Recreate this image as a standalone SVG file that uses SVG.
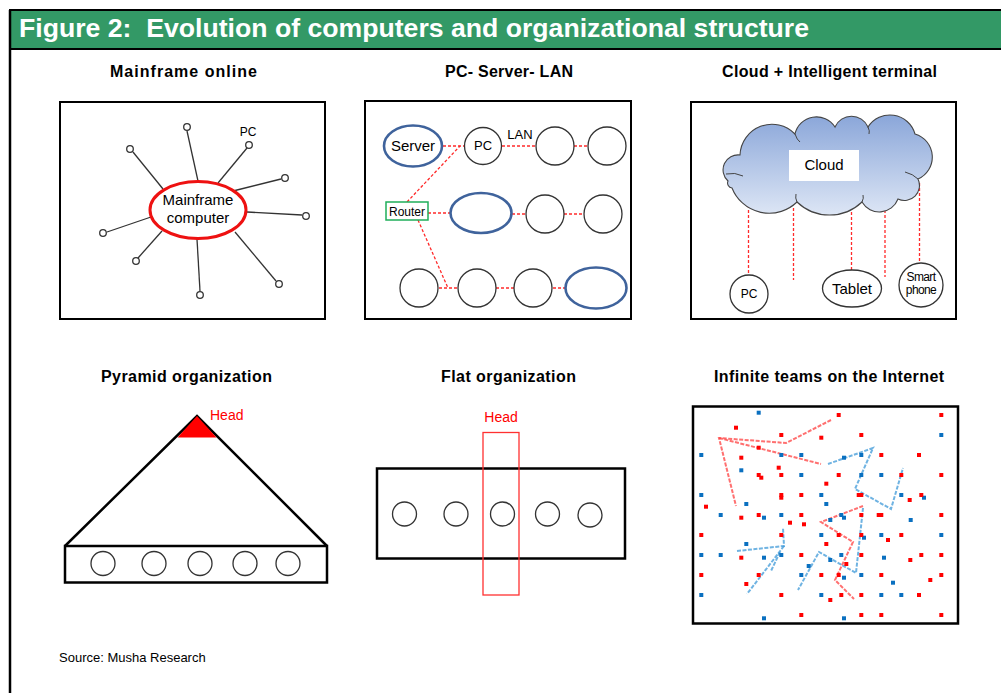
<svg xmlns="http://www.w3.org/2000/svg" xmlns:xlink="http://www.w3.org/1999/xlink" width="1001" height="693" viewBox="0 0 1001 693">
  <style>
    .t { font-family: "Liberation Sans", Arial, sans-serif; fill: #000; }
    .hd { font-family: "Liberation Sans", Arial, sans-serif; font-weight: bold; font-size: 26px; fill: #fff; white-space: pre; }
    .st { font-family: "Liberation Sans", Arial, sans-serif; font-weight: bold; font-size: 16px; fill: #000; }
    .panel { fill: #fff; stroke: #000; stroke-width: 2; }
    .spoke { stroke: #333; stroke-width: 1.3; fill: none; }
    .pc { fill: #fff; stroke: #333; stroke-width: 1.3; }
    .node { fill: #fff; stroke: #333; stroke-width: 1.3; }
    .blue { fill: #fff; stroke: #3f639c; stroke-width: 2.6; }
    .lan { stroke: #ff2a2a; stroke-width: 1.3; stroke-dasharray: 3 2; fill: none; }
    .mid { text-anchor: middle; }
    .red { fill: #ff0000; }
    .rl { stroke: #ff4040; stroke-width: 2; stroke-dasharray: 4 1.5; fill: none; opacity: 0.75; }
    .bl { stroke: #3f9ad8; stroke-width: 2; stroke-dasharray: 4 1.5; fill: none; opacity: 0.75; }
  </style>
  <defs>
    <linearGradient id="sky" x1="0" y1="0" x2="0" y2="1">
      <stop offset="0" stop-color="#8aa6d9"/>
      <stop offset="1" stop-color="#dde6f5"/>
    </linearGradient>
    <rect id="rd" x="-2" y="-2" width="4" height="4" fill="#ff0000"/>
    <rect id="bd" x="-2" y="-2" width="4" height="4" fill="#0a70c0"/>
  </defs>

  <rect width="1001" height="693" fill="#fff"/>

  <!-- header band and page frame -->
  <g id="header">
    <rect x="10" y="10" width="992" height="39" fill="#339966" stroke="#000" stroke-width="2"/>
    <line x1="10" y1="10" x2="10" y2="693" stroke="#000" stroke-width="2.5"/>
    <text class="hd" x="19" y="37" textLength="790" lengthAdjust="spacingAndGlyphs">Figure 2:  Evolution of computers and organizational structure</text>
  </g>

  <!-- section titles -->
  <g id="titles">
    <text class="st" x="110" y="77" textLength="147">Mainframe online</text>
    <text class="st" x="445" y="77" textLength="128">PC- Server- LAN</text>
    <text class="st" x="722" y="77" textLength="215">Cloud + Intelligent terminal</text>
    <text class="st" x="101" y="382" textLength="171">Pyramid organization</text>
    <text class="st" x="441" y="382" textLength="135">Flat organization</text>
    <text class="st" x="714" y="382" textLength="230">Infinite teams on the Internet</text>
  </g>

  <!-- Mainframe online -->
  <g id="mainframe">
    <rect class="panel" x="60" y="102" width="265" height="217"/>
    <g class="spoke">
      <line x1="198" y1="181" x2="187" y2="131"/>
      <line x1="218" y1="183" x2="247" y2="148"/>
      <line x1="163" y1="189" x2="133" y2="152"/>
      <line x1="233" y1="191" x2="281" y2="179"/>
      <line x1="247" y1="212" x2="302" y2="215"/>
      <line x1="151" y1="217" x2="107" y2="232"/>
      <line x1="162" y1="231" x2="138" y2="258"/>
      <line x1="197" y1="239" x2="200" y2="291"/>
      <line x1="235" y1="232" x2="276" y2="281"/>
    </g>
    <g class="pc">
      <circle cx="187" cy="127" r="3.3"/>
      <circle cx="249" cy="145" r="3.3"/>
      <circle cx="130" cy="149" r="3.3"/>
      <circle cx="285" cy="178" r="3.3"/>
      <circle cx="306" cy="216" r="3.3"/>
      <circle cx="103" cy="233" r="3.3"/>
      <circle cx="136" cy="261" r="3.3"/>
      <circle cx="200" cy="295" r="3.3"/>
      <circle cx="279" cy="284" r="3.3"/>
    </g>
    <ellipse cx="198" cy="210" rx="48" ry="28.5" fill="#fff" stroke="#ee1111" stroke-width="3"/>
    <text class="t mid" x="198" y="205" font-size="15">Mainframe</text>
    <text class="t mid" x="198" y="223" font-size="15">computer</text>
    <text class="t mid" x="248" y="136" font-size="12">PC</text>
  </g>

  <!-- PC- Server- LAN -->
  <g id="lan">
    <rect class="panel" x="365" y="101" width="266" height="218"/>
    <g class="lan">
      <line x1="443" y1="146" x2="465" y2="146"/>
      <line x1="502" y1="146" x2="536" y2="146"/>
      <line x1="574" y1="146" x2="589" y2="146"/>
      <line x1="407" y1="202" x2="460" y2="146"/>
      <line x1="428" y1="213" x2="450" y2="213"/>
      <line x1="512" y1="214" x2="526" y2="214"/>
      <line x1="564" y1="214" x2="584" y2="214"/>
      <line x1="418" y1="220" x2="448" y2="288"/>
      <line x1="439" y1="288" x2="458" y2="288"/>
      <line x1="496" y1="288" x2="514" y2="288"/>
      <line x1="553" y1="288" x2="565" y2="288"/>
    </g>
    <ellipse class="blue" cx="413" cy="146" rx="29" ry="20.5"/>
    <text class="t mid" x="413" y="151" font-size="15">Server</text>
    <circle class="node" cx="483" cy="146" r="18.5"/>
    <text class="t mid" x="483" y="150" font-size="13">PC</text>
    <text class="t mid" x="520" y="139" font-size="13">LAN</text>
    <circle class="node" cx="555" cy="146" r="19"/>
    <circle class="node" cx="607" cy="146" r="19"/>
    <rect x="386" y="202" width="42" height="18" fill="#fff" stroke="#1fae5a" stroke-width="1.5"/>
    <text class="t mid" x="407" y="215.5" font-size="12">Router</text>
    <ellipse class="blue" cx="481" cy="213" rx="30.5" ry="20"/>
    <circle class="node" cx="545" cy="214" r="19"/>
    <circle class="node" cx="603" cy="214" r="19"/>
    <circle class="node" cx="419" cy="288" r="19"/>
    <circle class="node" cx="477" cy="288" r="19"/>
    <circle class="node" cx="533" cy="288" r="19"/>
    <ellipse class="blue" cx="596" cy="288" rx="30.5" ry="20.5"/>
  </g>

  <!-- Cloud + Intelligent terminal -->
  <g id="cloud">
    <rect class="panel" x="691" y="102" width="265" height="217"/>
    <g class="lan">
      <line x1="748.5" y1="205" x2="748.5" y2="275"/>
      <line x1="793.5" y1="208" x2="793.5" y2="280"/>
      <line x1="851.5" y1="212" x2="851.5" y2="270"/>
      <line x1="885" y1="205" x2="885" y2="277"/>
      <line x1="919.5" y1="183" x2="919.5" y2="263"/>
    </g>
    <path d="M728,181 A15,15 0 0 1 740,155 A32,32 0 0 1 795,134 A22,22 0 0 1 835,127 A18,18 0 0 1 868,127 A26,26 0 0 1 915,134 A24,24 0 0 1 918,179 A15,15 0 0 1 898,199 A20,20 0 0 1 862,202 A47,47 0 0 1 797,202 A40,40 0 0 1 732,188 A5,5 0 0 1 728,181 Z" fill="url(#sky)" stroke="#444" stroke-width="1.1"/>
    <g fill="none" stroke="#444" stroke-width="1">
      <path d="M726,174 Q735,172 743,176"/>
      <path d="M795,134 Q797,140 800,142"/>
      <path d="M868,127 Q870,131 869,134"/>
      <path d="M905,172 Q913,174 918,179"/>
      <path d="M797,202 Q795,198 796,194"/>
      <path d="M862,202 Q864,198 863,195"/>
    </g>
    <rect x="789" y="150" width="70" height="31" fill="#fff"/>
    <text class="t mid" x="824" y="170" font-size="15">Cloud</text>
    <circle class="node" cx="749" cy="294" r="19"/>
    <text class="t mid" x="749" y="298" font-size="12">PC</text>
    <ellipse class="node" cx="852" cy="288.5" rx="29.5" ry="18.5"/>
    <text class="t mid" x="852" y="294" font-size="15">Tablet</text>
    <circle class="node" cx="921" cy="285" r="22"/>
    <text class="t mid" x="921" y="281" font-size="12" letter-spacing="-0.6">Smart</text>
    <text class="t mid" x="921" y="294" font-size="12" letter-spacing="-0.6">phone</text>
  </g>

  <!-- Pyramid organization -->
  <g id="pyramid">
    <polyline points="65,546 197,416 327,546" fill="none" stroke="#000" stroke-width="2.5"/>
    <polygon points="197,416 177.5,437.5 216.5,437.5" fill="#ff0000"/>
    <text class="t red" x="210" y="420" font-size="14">Head</text>
    <rect x="65" y="546" width="262" height="36.5" fill="#fff" stroke="#000" stroke-width="2.5"/>
    <g class="node">
      <circle cx="103" cy="563.5" r="12"/>
      <circle cx="154" cy="563.5" r="12"/>
      <circle cx="200" cy="563.5" r="12"/>
      <circle cx="245" cy="563.5" r="12"/>
      <circle cx="288" cy="563.5" r="12"/>
    </g>
  </g>

  <!-- Flat organization -->
  <g id="flat">
    <rect x="377" y="468.5" width="248" height="90" fill="#fff" stroke="#000" stroke-width="2.5"/>
    <g class="node">
      <circle cx="404.5" cy="514" r="12"/>
      <circle cx="456" cy="514" r="12"/>
      <circle cx="502.5" cy="514" r="12"/>
      <circle cx="547.5" cy="514" r="12"/>
      <circle cx="590" cy="515" r="12"/>
    </g>
    <rect x="483" y="432.5" width="36" height="162.5" fill="none" stroke="#ff3030" stroke-width="1.3"/>
    <text class="t red mid" x="501" y="421.5" font-size="14">Head</text>
  </g>

  <!-- Infinite teams on the Internet -->
  <g id="teams">
    <rect x="693" y="406.5" width="265" height="217" fill="#fff" stroke="#000" stroke-width="2.5"/>
    <g id="team-links">
      <polyline class="rl" points="831,420 786,443 719,438 736,506"/>
      <line class="rl" x1="719" y1="438" x2="821" y2="464"/>
      <polyline class="bl" points="828,464 873,448 855,489 891,509 903,468"/>
      <polyline class="rl" points="863,506 821,522 853,542 835,580 854,599"/>
      <polyline class="bl" points="863,508 856,573 819,552 798,590"/>
      <polyline class="bl" points="737,551 784,546 783,528"/>
      <line class="bl" x1="784" y1="546" x2="747" y2="594"/>
      <line class="bl" x1="780" y1="552" x2="771" y2="571"/>
    </g>
    <g id="team-dots-blue">
      <use href="#bd" x="758.7" y="412.7"/><use href="#bd" x="941.3" y="435"/>
      <use href="#bd" x="701.3" y="455"/><use href="#bd" x="781.3" y="455"/>
      <use href="#bd" x="801.3" y="455"/><use href="#bd" x="844" y="457.7"/>
      <use href="#bd" x="861.3" y="455"/><use href="#bd" x="741.3" y="470.3"/>
      <use href="#bd" x="801.3" y="475"/><use href="#bd" x="861.3" y="475"/>
      <use href="#bd" x="881.3" y="475"/><use href="#bd" x="701.3" y="495"/>
      <use href="#bd" x="821.3" y="495"/><use href="#bd" x="901.3" y="495"/>
      <use href="#bd" x="924" y="497.7"/><use href="#bd" x="746.3" y="504"/>
      <use href="#bd" x="826.3" y="504"/><use href="#bd" x="720.7" y="515"/>
      <use href="#bd" x="764" y="517.7"/><use href="#bd" x="781.3" y="515"/>
      <use href="#bd" x="841.3" y="515"/><use href="#bd" x="844" y="517.7"/>
      <use href="#bd" x="830.3" y="520"/><use href="#bd" x="910.7" y="520"/>
      <use href="#bd" x="821.3" y="535"/><use href="#bd" x="864" y="537.7"/>
      <use href="#bd" x="881.3" y="535"/><use href="#bd" x="941.3" y="535"/>
      <use href="#bd" x="746.3" y="544"/><use href="#bd" x="701.3" y="555"/>
      <use href="#bd" x="720.7" y="555"/><use href="#bd" x="764" y="557.7"/>
      <use href="#bd" x="781.3" y="555"/><use href="#bd" x="841.3" y="555"/>
      <use href="#bd" x="884" y="557.7"/><use href="#bd" x="830.3" y="560"/>
      <use href="#bd" x="808.7" y="566"/><use href="#bd" x="801.3" y="575"/>
      <use href="#bd" x="844" y="577.7"/><use href="#bd" x="861.3" y="575"/>
      <use href="#bd" x="893" y="582.7"/><use href="#bd" x="701.3" y="595"/>
      <use href="#bd" x="821.3" y="595"/><use href="#bd" x="881.3" y="595"/>
      <use href="#bd" x="901.3" y="595"/><use href="#bd" x="764" y="618.3"/>
      <use href="#bd" x="844" y="618.3"/>
    </g>
    <g id="team-dots-red">
      <use href="#rd" x="838.7" y="415"/><use href="#rd" x="941.3" y="415"/>
      <use href="#rd" x="736" y="427.7"/><use href="#rd" x="781.3" y="435"/>
      <use href="#rd" x="821.3" y="437.7"/><use href="#rd" x="861.3" y="435"/>
      <use href="#rd" x="758.7" y="447.7"/><use href="#rd" x="741.3" y="457.7"/>
      <use href="#rd" x="881.3" y="455"/><use href="#rd" x="919" y="455"/>
      <use href="#rd" x="778.7" y="467.7"/><use href="#rd" x="758.7" y="475"/>
      <use href="#rd" x="761.3" y="477.7"/><use href="#rd" x="781.3" y="475"/>
      <use href="#rd" x="838.7" y="475"/><use href="#rd" x="901.3" y="475"/>
      <use href="#rd" x="941.3" y="475"/><use href="#rd" x="826.3" y="483.7"/>
      <use href="#rd" x="781.3" y="495"/><use href="#rd" x="781.3" y="497.7"/>
      <use href="#rd" x="801.3" y="495"/><use href="#rd" x="858.7" y="495"/>
      <use href="#rd" x="861.3" y="495"/><use href="#rd" x="921.3" y="495"/>
      <use href="#rd" x="909.7" y="500"/><use href="#rd" x="706" y="506.7"/>
      <use href="#rd" x="741.3" y="517.7"/><use href="#rd" x="758.7" y="515"/>
      <use href="#rd" x="801.3" y="515"/><use href="#rd" x="861.3" y="515"/>
      <use href="#rd" x="878.7" y="515"/><use href="#rd" x="881.3" y="515"/>
      <use href="#rd" x="941.3" y="515"/><use href="#rd" x="790" y="522.7"/>
      <use href="#rd" x="804" y="524.3"/><use href="#rd" x="701.3" y="535"/>
      <use href="#rd" x="781.3" y="535"/><use href="#rd" x="838.7" y="535"/>
      <use href="#rd" x="861.3" y="535"/><use href="#rd" x="888" y="540"/>
      <use href="#rd" x="901.3" y="535"/><use href="#rd" x="826.3" y="544"/>
      <use href="#rd" x="741.3" y="557.7"/><use href="#rd" x="801.3" y="555"/>
      <use href="#rd" x="861.3" y="555"/><use href="#rd" x="921.3" y="555"/>
      <use href="#rd" x="941.3" y="555"/><use href="#rd" x="910.3" y="560"/>
      <use href="#rd" x="846.3" y="564"/><use href="#rd" x="701.3" y="575"/>
      <use href="#rd" x="758.7" y="575"/><use href="#rd" x="821.3" y="575"/>
      <use href="#rd" x="838.7" y="575"/><use href="#rd" x="881.3" y="575"/>
      <use href="#rd" x="941.3" y="575"/><use href="#rd" x="930.3" y="580"/>
      <use href="#rd" x="746.3" y="584"/><use href="#rd" x="781.3" y="595"/>
      <use href="#rd" x="841.3" y="595"/><use href="#rd" x="861.3" y="595"/>
      <use href="#rd" x="919" y="595"/><use href="#rd" x="830.3" y="600"/>
      <use href="#rd" x="801.3" y="615"/><use href="#rd" x="861.3" y="615"/>
      <use href="#rd" x="881.3" y="615"/><use href="#rd" x="941.3" y="615"/>
    </g>
  </g>

  <text id="source" class="t" x="59" y="662" font-size="13">Source: Musha Research</text>
</svg>
